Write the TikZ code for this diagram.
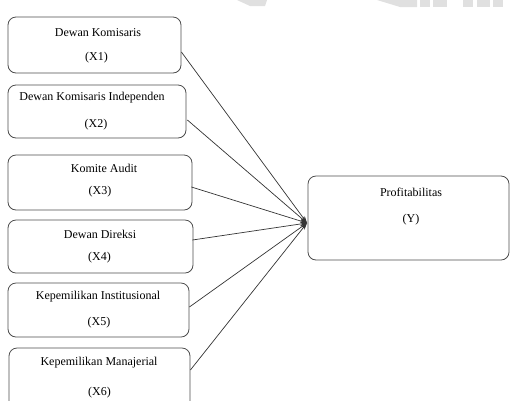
\documentclass[tikz,border=0pt]{standalone}
\usepackage{fontspec}
\setmainfont{Liberation Serif}
\usetikzlibrary{arrows.meta}
\begin{document}
\begin{tikzpicture}[x=1pt,y=-1pt,
  box/.style={draw=black!70, line width=0.8pt, rounded corners=8pt, inner sep=0pt},
  lbl/.style={font=\fontsize{12}{14}\selectfont, inner sep=0pt},
  conn/.style={draw=black!80, line width=0.7pt, -{Stealth[length=7pt,width=4.5pt]}},
  wm/.style={fill=black!12, draw=none}]
\useasboundingbox (0,0) rectangle (510,400);
% faint watermark at the top
\fill[wm] (237,0) -- (267,0) -- (265,6) -- (250,6) -- cycle;
\fill[wm] (377,0) -- (417,0) -- (417,7) -- (400,7) -- cycle;
\fill[wm] (420,0) rectangle (430,7);
\fill[wm] (433,0) rectangle (447,7);
\fill[wm] (463,0) rectangle (473,7);
\fill[wm] (477,0) rectangle (490,7);
\fill[wm] (493,0) rectangle (503,7);
% boxes
\node[box, minimum width=173pt, minimum height=56pt] (X1) at (94.5,45) {};
\node[box, minimum width=178pt, minimum height=53pt] (X2) at (97,111.5) {};
\node[box, minimum width=184pt, minimum height=55pt] (X3) at (100,182.5) {};
\node[box, minimum width=185pt, minimum height=53pt] (X4) at (100.5,246.5) {};
\node[box, minimum width=181pt, minimum height=54pt] (X5) at (98.5,310) {};
\node[box, minimum width=181pt, minimum height=62pt] (X6) at (99.5,379) {};
\node[box, minimum width=201pt, minimum height=84pt] (Y) at (408.5,218) {};
% texts
\node[lbl] (t1a) at (98,33) {Dewan Komisaris};
\node[lbl] (t1b) at (96.5,58) {(X1)};
\node[lbl] (t2a) at (92,98) {Dewan Komisaris Independen};
\node[lbl] (t2b) at (96,125) {(X2)};
\node[lbl] (t3a) at (104,168) {Komite Audit};
\node[lbl] (t3b) at (100,192) {(X3)};
\node[lbl] (t4a) at (100,234) {Dewan Direksi};
\node[lbl] (t4b) at (99.5,258) {(X4)};
\node[lbl] (t5a) at (98,297) {Kepemilikan Institusional};
\node[lbl] (t5b) at (99,323) {(X5)};
\node[lbl] (t6a) at (99,363) {Kepemilikan Manajerial};
\node[lbl] (t6b) at (99.5,393) {(X6)};
\node[lbl] (tya) at (411,192) {Profitabilitas};
\node[lbl] (tyb) at (411,220) {(Y)};
% connectors
\coordinate (P) at (307,223);
\draw[conn] ([yshift=-7pt]X1.east) -- (P);
\draw[conn] ([xshift=1pt,yshift=-8.5pt]X2.east) -- (P);
\draw[conn] ([xshift=-1pt,yshift=-4.5pt]X3.east) -- (P);
\draw[conn] ([xshift=-1pt,yshift=6.5pt]X4.east) -- (P);
\draw[conn] ([yshift=3pt]X5.east) -- (P);
\draw[conn] ([yshift=9pt]X6.east) -- (P);
\end{tikzpicture}
\end{document}
